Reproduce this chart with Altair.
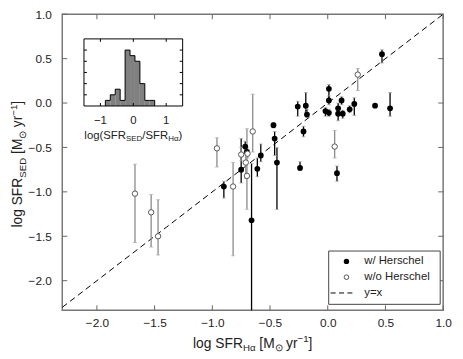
import altair as alt
import pandas as pd

FONT = "Liberation Sans"
TEXT = "#222222"

# ---------------- data ----------------
# log SFR(Halpha) and log SFR(SED), with SED range (lo, hi); herschel: 1 = w/ Herschel, 0 = w/o
sfr_ha = [0.47, 0.01, 0.01, -0.02, 0.01, 0.09, 0.12, 0.09, 0.13, 0.19, 0.23, 0.41, 0.54, 0.08,
          -0.26, -0.19, -0.18, -0.21, -0.24, -0.47, -0.46, -0.44, -0.58, -0.61, -0.715, -0.70,
          -0.75, -0.90, -0.66,
          0.26, 0.06, -0.65, -0.75, -0.695, -0.71, -0.70, -0.82, -0.96, -1.67, -1.53, -1.47]
sfr_sed = [0.55, 0.16, 0.03, -0.09, -0.11, -0.06, 0.03, -0.12, -0.12, -0.07, -0.01, -0.03, -0.06, -0.79,
           -0.04, -0.03, -0.13, -0.32, -0.73, -0.25, -0.40, -0.67, -0.59, -0.74, -0.49, -0.55,
           -0.75, -0.94, -1.32,
           0.32, -0.49, -0.32, -0.58, -0.57, -0.67, -0.82, -0.94, -0.51, -1.02, -1.23, -1.50]
sed_lo = [0.45, 0.05, -0.02, -0.15, -0.15, -0.13, -0.02, -0.20, -0.17, -0.11, -0.14, -0.05, -0.15, -0.88,
          -0.15, -0.10, -0.16, -0.38, -0.76, -0.28, -0.59, -1.20, -0.66, -0.83, -0.55, -0.60,
          -0.90, -1.07, -2.60,
          0.14, -0.62, -0.55, -0.65, -0.62, -0.85, -1.20, -1.72, -0.72, -1.57, -1.62, -1.71]
sed_hi = [0.60, 0.21, 0.08, -0.05, -0.07, 0.00, 0.07, -0.07, -0.08, -0.03, 0.06, -0.01, 0.12, -0.71,
          0.02, 0.12, -0.07, -0.26, -0.66, -0.22, -0.32, -0.50, -0.46, -0.62, -0.43, -0.50,
          -0.40, -0.88, -0.68,
          0.39, -0.31, 0.10, -0.50, -0.52, -0.50, -0.29, -0.67, -0.39, -0.69, -1.03, -1.09]
herschel = [1, 1, 1, 1, 1, 1, 1, 1, 1, 1, 1, 1, 1, 1,
            1, 1, 1, 1, 1, 1, 1, 1, 1, 1, 1, 1,
            1, 1, 1,
            0, 0, 0, 0, 0, 0, 0, 0, 0, 0, 0, 0]

# inset histogram of log(SFR_SED / SFR_Halpha)
hist_edges = [-0.85, -0.70, -0.55, -0.40, -0.25, -0.10, 0.05, 0.20, 0.35, 0.50, 0.65]
hist_counts = [1, 2, 3, 1, 10, 9, 8, 4, 1, 1]

x_domain = [-2.3, 1.0]
y_domain = [-2.333, 1.0]
x_ticks = [-2.0, -1.5, -1.0, -0.5, 0.0, 0.5, 1.0]
y_ticks = [-2.0, -1.5, -1.0, -0.5, 0.0, 0.5, 1.0]
inset_x_domain = [-1.5, 1.5]
inset_y_domain = [0, 12]
inset_x_ticks = [-1, 0, 1]
inset_y_ticks = [2, 4, 6, 8, 10]
legend_labels = ["w/ Herschel", "w/o Herschel", "y=x"]
sample_names = ["w/ Herschel", "w/o Herschel"]

# ---------------- layout constants ----------------
W, H = 386, 300
INS_X0, INS_X1, INS_Y0, INS_Y1 = 22, 122, 25, 93

df = pd.DataFrame({"sfr_ha": sfr_ha, "sfr_sed": sfr_sed, "lo": sed_lo, "hi": sed_hi,
                   "herschel": herschel})
df["sample"] = [sample_names[0] if h == 1 else sample_names[1] for h in herschel]
ONE = pd.DataFrame({"k": [0]})

XS = alt.Scale(domain=x_domain, nice=False, zero=False)
YS = alt.Scale(domain=y_domain, nice=False, zero=False)
AX_X = alt.Axis(values=x_ticks, format=".1f", ticks=False, tickSize=0, domain=False, grid=False,
                title=None, labelFont=FONT, labelFontSize=12, labelColor=TEXT, labelPadding=7,
                labelFlush=False, labelOverlap=False)
AX_Y = alt.Axis(values=y_ticks, format=".1f", ticks=False, tickSize=0, domain=False, grid=False,
                title=None, labelFont=FONT, labelFontSize=12, labelColor=TEXT, labelPadding=11,
                labelFlush=False, labelOverlap=False)


def X(f):
    return alt.X(f, type="quantitative", scale=XS, axis=AX_X)


def Y(f):
    return alt.Y(f, type="quantitative", scale=YS, axis=AX_Y)


# ---------- main panel ----------
diag = alt.Chart(pd.DataFrame({"a": x_domain, "b": x_domain})).mark_line(
    color="black", strokeWidth=1, strokeDash=[6, 4]).encode(x=X("a"), y=Y("b"))

bars = alt.Chart(df).mark_rule(clip=True, strokeWidth=1.3).encode(
    x=X("sfr_ha"), y=Y("lo"), y2="hi",
    color=alt.Color("sample:N", scale=alt.Scale(domain=sample_names, range=["black", "#8a8a8a"]),
                    legend=None))
cap_lo = alt.Chart(df).mark_tick(orient="horizontal", size=4, thickness=1, color="#aaaaaa",
                                 clip=True).encode(x=X("sfr_ha"), y=Y("lo"))
cap_hi = alt.Chart(df).mark_tick(orient="horizontal", size=4, thickness=1, color="#aaaaaa",
                                 clip=True).encode(x=X("sfr_ha"), y=Y("hi"))

filled_pts = alt.Chart(df).transform_filter("datum.herschel == 1").mark_point(
    shape="circle", filled=True, color="black", size=34, opacity=1).encode(
    x=X("sfr_ha"), y=Y("sfr_sed"))
open_pts = alt.Chart(df).transform_filter("datum.herschel == 0").mark_point(
    shape="circle", filled=True, fill="white", stroke="#555555", strokeWidth=1, size=30,
    opacity=1).encode(x=X("sfr_ha"), y=Y("sfr_sed"))

xt = pd.DataFrame({"t": x_ticks})
yt = pd.DataFrame({"t": y_ticks})
TICK_C = "#666666"
tick_b = alt.Chart(xt).mark_rule(color=TICK_C).encode(x=X("t"), y=alt.value(H), y2=alt.value(H - 5))
tick_t = alt.Chart(xt).mark_rule(color=TICK_C).encode(x=X("t"), y=alt.value(0), y2=alt.value(5))
tick_l = alt.Chart(yt).mark_rule(color=TICK_C).encode(y=Y("t"), x=alt.value(0), x2=alt.value(5))
tick_r = alt.Chart(yt).mark_rule(color=TICK_C).encode(y=Y("t"), x=alt.value(W), x2=alt.value(W - 5))

# legend (drawn by hand)
LX0, LX1, LY0, LY1 = 270, 383, 240, 294
ROWS = [250.5, 266.5, 282.5]
leg_box = alt.Chart(ONE).mark_rect(fill="white", stroke="#444444", strokeWidth=1).encode(
    x=alt.value(LX0), x2=alt.value(LX1), y=alt.value(LY0), y2=alt.value(LY1))
leg_f = alt.Chart(ONE).mark_point(shape="circle", filled=True, color="black", size=30,
                                  opacity=1).encode(x=alt.value(288), y=alt.value(ROWS[0]))
leg_o = alt.Chart(ONE).mark_point(shape="circle", filled=True, fill="white", stroke="#555555",
                                  strokeWidth=1, size=22, opacity=1).encode(
    x=alt.value(288), y=alt.value(ROWS[1]))
leg_l = alt.Chart(ONE).mark_rule(color="black", strokeWidth=1, strokeDash=[5, 3.5]).encode(
    x=alt.value(272), x2=alt.value(294), y=alt.value(ROWS[2]))
leg_txt = [alt.Chart(ONE).mark_text(text=lab, font=FONT, fontSize=11.5, align="left",
                                    baseline="middle", color=TEXT).encode(
    x=alt.value(306), y=alt.value(r)) for lab, r in zip(legend_labels, ROWS)]

# rich-text titles with sub/superscripts (each piece placed explicitly; spaces become offsets)
ARIAL = {' ': 278, '(': 333, ')': 333, '/': 278, '[': 278, ']': 278, '1': 556,
         'D': 722, 'E': 667, 'F': 611, 'H': 722, 'M': 833, 'R': 722, 'S': 667, 'g': 556,
         'l': 222, 'o': 556, 'r': 333, 'y': 500, '\u2212': 584, '\u03b1': 578, '\u2299': 780}


def tw(s, size):
    return sum(ARIAL.get(c, 556) for c in s) * size / 1000.0


def rich(segments, cx, cy, size, vertical=False):
    parts = []
    total = 0.0
    for txt, kind in segments:
        sz = size if kind == "n" else size * 0.7
        w = tw(txt, sz)
        lead = tw(txt[:len(txt) - len(txt.lstrip(" "))], sz)
        parts.append((txt.strip(" "), kind, sz, w, lead))
        total += w
    pos = -total / 2
    out = []
    for txt, kind, sz, w, lead in parts:
        shift = {"n": 0.0, "sub": 0.25 * size, "sup": -0.40 * size}[kind]
        p = pos + lead
        if vertical:
            px, py, ang = cx + shift, cy - p, 270
        else:
            px, py, ang = cx + p, cy + shift, 0
        out.append(alt.Chart(ONE).mark_text(text=txt, font=FONT, fontSize=sz, align="left",
                                            baseline="alphabetic", angle=ang, color=TEXT).encode(
            x=alt.value(px), y=alt.value(py)))
        pos += w
    return out


x_title = rich([("log SFR", "n"), ("H\u03b1", "sub"), (" [M", "n"), ("\u2299", "sub"),
                (" yr", "n"), ("\u22121", "sup"), ("]", "n")], W / 2, 338, 14)
y_title = rich([("log SFR", "n"), ("SED", "sub"), (" [M", "n"), ("\u2299", "sub"),
                (" yr", "n"), ("\u22121", "sup"), ("]", "n")], -40.5, 152, 14, vertical=True)
inset_title = rich([("log(SFR", "n"), ("SED", "sub"), ("/SFR", "n"), ("H\u03b1", "sub"),
                    (")", "n")], (INS_X0 + INS_X1) / 2, 126, 11.5)

main = alt.layer(diag, bars, cap_lo, cap_hi, filled_pts, open_pts,
                 tick_b, tick_t, tick_l, tick_r,
                 leg_box, leg_f, leg_o, leg_l, *leg_txt, *x_title, *y_title, *inset_title)

# ---------- inset ----------
IXS = alt.Scale(domain=inset_x_domain, range=[INS_X0, INS_X1], nice=False, zero=False)
IYS = alt.Scale(domain=inset_y_domain, range=[INS_Y1, INS_Y0], nice=False, zero=False)


def IX(f):
    return alt.X(f, type="quantitative", scale=IXS, axis=None)


def IY(f):
    return alt.Y(f, type="quantitative", scale=IYS, axis=None)


box = pd.DataFrame({"x0": [inset_x_domain[0]], "x1": [inset_x_domain[1]],
                    "y0": [inset_y_domain[0]], "y1": [inset_y_domain[1]]})
hist = pd.DataFrame({"lo": hist_edges[:-1], "hi": hist_edges[1:], "n": hist_counts,
                     "base": [0] * len(hist_counts)})
step = pd.DataFrame({"e": [hist_edges[0]] + hist_edges,
                     "n": [0] + hist_counts + [0]})
step["i"] = range(len(step))

ins_bg = alt.Chart(box).mark_rect(fill="white").encode(x=IX("x0"), x2="x1", y=IY("y0"), y2="y1")
ins_bars = alt.Chart(hist).mark_rect(fill="#808080").encode(x=IX("lo"), x2="hi", y=IY("n"), y2="base")
ins_step = alt.Chart(step).mark_line(interpolate="step-after", color="black", strokeWidth=1).encode(
    x=IX("e"), y=IY("n"), order="i:Q")
ixt = pd.DataFrame({"t": inset_x_ticks,
                    "lab": [str(v).replace("-", "\u2212") for v in inset_x_ticks]})
iyt = pd.DataFrame({"t": inset_y_ticks})
ins_tb = alt.Chart(ixt).mark_rule(color="black").encode(x=IX("t"), y=alt.value(INS_Y1), y2=alt.value(INS_Y1 - 3))
ins_tt = alt.Chart(ixt).mark_rule(color="black").encode(x=IX("t"), y=alt.value(INS_Y0), y2=alt.value(INS_Y0 + 3))
ins_tl = alt.Chart(iyt).mark_rule(color="black").encode(y=IY("t"), x=alt.value(INS_X0), x2=alt.value(INS_X0 + 3))
ins_tr = alt.Chart(iyt).mark_rule(color="black").encode(y=IY("t"), x=alt.value(INS_X1), x2=alt.value(INS_X1 - 3))
ins_frame = alt.Chart(box).mark_rect(fillOpacity=0, stroke="black", strokeWidth=1).encode(
    x=IX("x0"), x2="x1", y=IY("y0"), y2="y1")
ins_lab = alt.Chart(ixt).mark_text(font=FONT, fontSize=11.5, baseline="alphabetic", align="center",
                                   color=TEXT).encode(x=IX("t"), y=alt.value(INS_Y1 + 18), text="lab:N")

inset = alt.layer(ins_bg, ins_bars, ins_step, ins_tb, ins_tt, ins_tl, ins_tr, ins_frame, ins_lab)

chart = alt.layer(main, inset).resolve_scale(x="independent", y="independent").properties(
    width=W, height=H,
    autosize=alt.AutoSizeParams(type="none"),
    padding={"left": 55, "top": 4, "right": 12, "bottom": 40},
).configure_view(stroke="#777777", strokeWidth=1.5)

chart.save("out.html", embed_options={"renderer": "svg", "actions": False})
